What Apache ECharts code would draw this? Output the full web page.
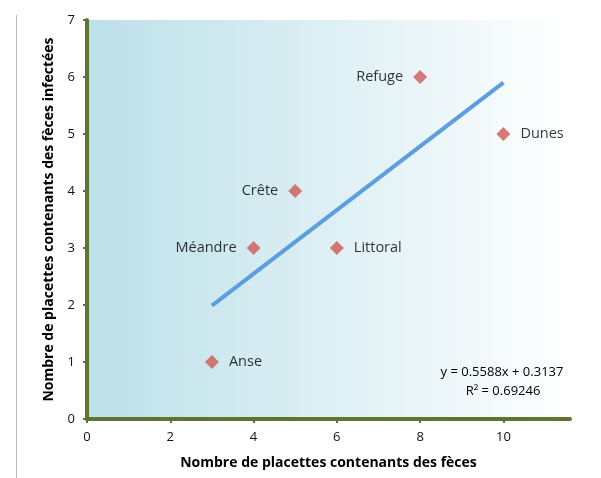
<!DOCTYPE html>
<html>
<head>
<meta charset="utf-8">
<script src="https://cdn.jsdelivr.net/npm/echarts@6/dist/echarts.min.js"></script>
<style>
html,body{margin:0;padding:0;background:#fff;}
#main{width:601px;height:478px;}
</style>
</head>
<body>
<div id="main"></div>
<script>
var sites = ['Anse', 'Méandre', 'Crête', 'Littoral', 'Refuge', 'Dunes'];
var xVals = [3, 4, 5, 6, 8, 10];
var yVals = [1, 3, 4, 3, 6, 5];
var labelSide = ['right', 'left', 'left', 'right', 'left', 'right'];
var trendX = [3, 10];
var trendY = [1.99, 5.90];
var equation = 'y = 0.5588x + 0.3137';
var rSquared = 'R² = 0.69246';

var axisColor = '#5f7432';
var font = '"Open Sans", "Liberation Sans", sans-serif';

var points = sites.map(function (name, i) {
    return {
        name: name,
        value: [xVals[i], yVals[i]],
        label: { position: labelSide[i] }
    };
});
var trend = trendX.map(function (x, i) { return [x, trendY[i]]; });

var option = {
    animation: false,
    textStyle: { fontFamily: font },
    grid: {
        left: 87, right: 31, top: 20, bottom: 59,
        show: true,
        borderWidth: 0,
        backgroundColor: new echarts.graphic.LinearGradient(0, 0, 1, 0, [
            { offset: 0, color: '#bce0e9' },
            { offset: 1, color: '#ffffff' }
        ])
    },
    xAxis: {
        type: 'value',
        min: 0, max: 11.6, interval: 2,
        name: 'Nombre de placettes contenants des fèces',
        nameLocation: 'middle',
        nameGap: 37,
        nameTextStyle: { fontWeight: 'bold', fontSize: 14, color: '#000', fontFamily: font },
        axisLine: { lineStyle: { color: axisColor, width: 4 } },
        axisTick: { show: true, length: 4, lineStyle: { color: axisColor, width: 2 } },
        axisLabel: { showMaxLabel: false, color: '#111', fontSize: 13, margin: 12, fontFamily: font },
        splitLine: { show: false }
    },
    yAxis: {
        type: 'value',
        min: 0, max: 7, interval: 1,
        name: 'Nombre de placettes contenants des fèces infectées',
        nameLocation: 'middle',
        nameGap: 31,
        nameTextStyle: { fontWeight: 'bold', fontSize: 14, color: '#000', fontFamily: font },
        axisLine: { lineStyle: { color: axisColor, width: 4 } },
        axisTick: { show: true, length: 4, lineStyle: { color: axisColor, width: 2 } },
        axisLabel: { color: '#111', fontSize: 13, margin: 12, fontFamily: font },
        splitLine: { show: false }
    },
    series: [
        {
            type: 'line',
            data: trend,
            symbol: 'none',
            lineStyle: { color: '#5b9fe0', width: 4 },
            z: 2
        },
        {
            type: 'scatter',
            data: points,
            symbol: 'diamond',
            symbolSize: 14,
            itemStyle: { color: '#cd5a57' },
            label: {
                show: true,
                formatter: '{b}',
                color: '#000',
                fontSize: 14.5,
                distance: 10,
                fontFamily: font
            },
            z: 3
        }
    ],
    graphic: [
        {
            type: 'line',
            shape: { x1: 16.5, y1: 15, x2: 16.5, y2: 478 },
            style: { stroke: '#bbb', lineWidth: 1 }
        },
        {
            type: 'text',
            x: 502, y: 366,
            style: { text: equation, fill: '#000', font: '13px ' + font, textAlign: 'center' }
        },
        {
            type: 'text',
            x: 503, y: 385,
            style: { text: rSquared, fill: '#000', font: '13px ' + font, textAlign: 'center' }
        }
    ]
};

var myChart = echarts.init(document.getElementById('main'));
myChart.setOption(option);
</script>
</body>
</html>
